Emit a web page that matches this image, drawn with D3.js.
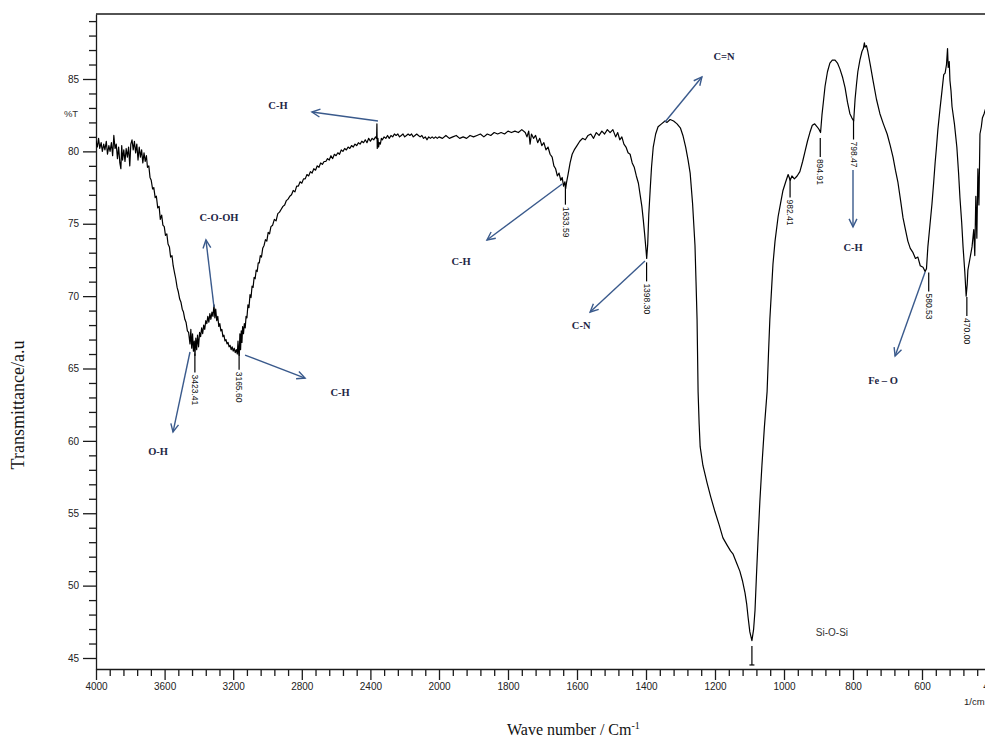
<!DOCTYPE html>
<html><head><meta charset="utf-8">
<script src="https://cdn.jsdelivr.net/npm/d3@7"></script>
<style>body{margin:0;background:#fff}svg{display:block}</style>
</head><body>
<svg id="c" width="985" height="738"></svg>
<script>
// ---------- DATA ----------
const wavenumber = [
4000,3992,3985,3978,3970,3963,3955,3948,3940,3933,3925,3918,3910,3903,3896,3889,3882,3875,3868,3861,3855,3850,3845,3838,3831,3824,3817,3810,3803,3797,3790,3783,3776,3769,3762,3755,3748,3741,3734,3727,3720,3713,3706,3700,
3692,3685,3678,3670,3663,3655,3648,3640,3632,3625,3617,3610,3602,3595,3587,3580,3572,3565,3557,3550,3542,3535,3527,3520,3512,3505,3497,3490,3482,3475,3467,3460,3452,3447,3442,3437,3432,3427,3423,3418,3413,3408,3402,3396,3390,3384,3378,3372,3366,3360,3354,3348,3342,3336,3330,3324,3318,3312,3307,3302,3296,3290,3284,3278,3272,3266,3260,3254,3248,3242,3236,3230,3224,3218,3212,3206,3200,3194,3188,3182,3176,3172,3168,3165,3161,3157,3153,3149,3145,3140,3135,3130,3125,3120,3114,3108,3102,3096,3090,3084,3078,3072,3066,3060,3054,3048,3042,3035,3028,3020,3012,3004,2996,2988,2980,2970,2960,2950,2940,2930,2920,2910,2900,2890,2880,2870,2860,2850,2840,2830,2820,2810,2800,2790,2780,2770,2760,2750,2740,2730,2720,2710,2700,2690,2680,2670,2660,2650,2640,2630,2620,2610,2600,2590,2580,2570,2560,2550,2540,2530,2520,2510,2500,2490,2480,2470,2460,2450,2440,2430,2420,2410,2400,2390,2380,2370,2364,2362,2360,2356,2352,2348,2342,2336,2330,2320,2310,2300,2290,2280,2270,2260,2250,2240,2230,2220,2210,2200,2190,2180,2170,2160,2150,2140,2130,2120,2110,2100,2090,2080,2070,2060,2050,2040,2030,2020,2010,2000,
1990,1980,1970,1960,1950,1940,1930,1920,1910,1900,1890,1880,1870,1860,1850,1840,1830,1820,1810,1800,1790,1780,1770,1760,1750,1745,1740,1736,1732,1726,1720,1714,1708,1702,1696,1690,1684,1678,1672,1667,1662,1657,1652,1647,1643,1639,1635,1633,1630,1626,1620,1614,1608,1600,1592,1584,1576,1568,1560,1552,1544,1536,1528,1520,1512,1504,1496,1488,1482,1476,1470,1464,1458,1452,1446,1440,1434,1428,1422,1417,1412,1408,1404,1400,1398,1395,1392,1388,1384,1379,1372,1365,1355,1345,1339,1330,1320,1310,1300,1293,1285,1278,1272,1265,1258,1255,1252,1249,1246,1243,1235,1223,1212,1200,1188,1177,1165,1155,1148,1138,1128,1120,1113,1108,1104,1099,1093,1088,1084,1080,1075,1070,1064,1057,1049,1045,1041,1036,1032,1026,1017,1010,1003,995,988,982,977,970,962,954,946,939,932,925,918,911,904,898,894,890,885,881,874,867,860,852,845,838,830,823,816,809,803,798,794,790,786,780,774,770,767,765,761,757,750,742,732,722,712,701,692,684,677,670,662,655,648,641,634,626,619,612,605,597,591,587,583,577,571,566,562,558,554,548,542,537,533,529,526,524,521,519,516,513,506,499,494,490,485,481,476,472,469,467,461,455,450,447,444,441,438,435,432,428,425,420,415,410];
const transmittance = [
80.7,80.3,80.9,80.2,80.6,80.0,80.5,80.1,80.7,79.8,80.4,80.0,80.6,79.7,81.1,80.2,80.5,79.5,80.3,79.2,78.8,80.4,79.4,80.1,79.3,80.2,79.6,80.3,79.0,80.5,80.8,80.1,80.7,79.9,80.5,79.4,80.3,79.6,80.1,79.2,79.9,79.3,79.7,78.9,
79.0,78.2,78.0,77.4,77.5,76.8,76.9,76.1,76.2,75.3,75.6,74.9,74.8,74.2,74.3,73.6,73.4,72.7,72.8,72.1,71.6,71.2,70.6,70.3,69.8,69.6,69.1,68.9,68.4,68.2,67.6,67.5,66.7,67.7,66.4,67.4,66.2,66.9,65.9,67.1,66.3,67.3,66.5,67.5,67.2,67.8,67.4,68.0,67.7,68.3,68.1,68.6,68.2,68.8,68.4,68.9,68.6,69.4,68.5,69.1,68.3,68.6,67.9,68.1,67.6,67.7,67.2,67.3,66.9,67.0,66.7,66.8,66.5,66.6,66.3,66.5,66.2,66.4,66.1,66.3,66.0,66.9,66.1,65.9,67.4,66.3,67.6,66.8,67.9,67.4,68.1,67.8,68.6,68.5,69.4,69.2,70.1,69.9,70.7,70.6,71.3,71.2,71.8,71.7,72.3,72.3,72.8,72.7,73.3,73.5,73.9,73.8,74.4,74.3,74.8,74.9,75.3,75.2,75.7,75.8,76.0,76.2,76.3,76.6,76.7,76.9,77.0,77.3,77.2,77.6,77.6,77.9,77.8,78.1,78.1,78.4,78.3,78.6,78.5,78.8,78.7,79.0,78.9,79.2,79.1,79.3,79.3,79.5,79.4,79.7,79.5,79.8,79.7,79.9,79.8,80.1,80.0,80.2,80.1,80.3,80.2,80.4,80.3,80.5,80.4,80.6,80.5,80.7,80.6,80.8,80.6,80.9,80.7,80.9,80.8,81.0,80.9,81.9,80.2,80.9,80.3,80.6,80.5,80.9,80.8,81.0,80.9,81.1,80.9,81.1,81.0,81.2,81.1,81.2,81.0,81.1,81.2,81.0,81.1,81.2,81.1,81.2,81.0,81.1,81.2,81.1,81.0,81.1,80.9,81.0,80.8,81.0,80.9,81.0,80.9,81.0,80.9,81.0,
80.9,81.1,80.9,81.0,81.1,80.9,81.0,80.9,81.1,81.0,81.1,81.2,81.0,81.2,81.1,81.3,81.2,81.3,81.2,81.4,81.3,81.4,81.3,81.5,81.3,81.0,81.4,80.5,81.2,80.9,81.1,80.6,80.9,80.4,80.6,80.1,80.3,79.8,79.6,79.0,78.8,78.3,78.5,78.0,78.2,77.6,77.9,77.4,77.9,78.4,79.2,79.8,80.1,80.4,80.7,80.9,80.8,81.1,81.2,80.9,81.3,81.1,81.4,81.2,81.5,81.3,81.5,81.0,81.3,80.8,81.0,80.5,80.3,79.9,79.8,79.2,78.9,78.3,77.8,77.0,76.2,75.3,74.3,73.2,72.6,73.6,75.6,77.3,78.9,80.3,81.2,81.7,81.9,82.1,82.0,82.2,82.1,81.9,81.6,81.1,80.3,79.4,78.5,76.4,73.5,71.0,68.4,63.4,61.2,59.6,58.3,57.1,56.1,55.1,54.2,53.3,52.8,52.4,52.2,51.6,51.0,50.3,49.5,48.7,47.8,46.8,46.2,47.0,48.3,50.6,53.3,55.8,58.3,60.9,63.4,66.0,68.4,70.5,72.2,73.8,75.5,76.4,77.3,77.9,78.4,78.0,78.3,78.1,78.3,78.6,79.3,80.0,80.7,81.3,81.8,81.9,81.7,81.5,81.3,82.5,83.6,84.5,85.5,86.1,86.3,86.3,86.1,85.7,85.1,84.4,83.4,82.6,82.3,82.1,83.6,84.6,85.5,86.3,86.9,87.1,87.5,87.2,87.3,86.9,86.0,84.9,83.6,82.6,81.9,81.2,80.4,79.6,78.7,77.9,76.6,75.4,74.6,73.8,73.3,73.0,72.6,72.7,72.1,72.0,71.7,71.9,73.4,74.9,76.4,77.9,79.2,80.3,81.5,82.9,84.2,85.3,85.4,86.0,87.1,85.8,86.2,84.9,84.2,83.1,81.9,80.3,78.5,76.8,75.1,73.4,71.7,70.0,70.8,71.8,72.6,73.4,74.6,72.8,76.9,74.0,78.8,76.3,81.2,81.7,82.3,82.6,83.0,83.2];

const xTickValues = [4000,3600,3200,2800,2400,2000,1800,1600,1400,1200,1000,800,600,400];
const xTickLabels = ["4000","3600","3200","2800","2400","2000","1800","1600","1400","1200","1000","800","600","400"];
const yTickValues = [45,50,55,60,65,70,75,80,85];
const yTickLabels = ["45","50","55","60","65","70","75","80","85"];

const peakWavenumbers = [3423.41,3165.60,1633.59,1398.30,1093,982.41,894.91,798.47,580.53,470.00];
const peakLabels = ["3423.41","3165.60","1633.59","1398.30","","982.41","894.91","798.47","580.53","470.00"];
const peakDepths = [66.1,66.3,77.7,72.4,45.9,78.2,81.0,82.2,71.7,70.0];

const bondLabels = ["C-H","C-O-OH","O-H","C-H","C-H","C-N","C=N","C-H","Fe \u2013 O"];
const arrowStart = [[2356,82.1],[3312,69.25],[3452,66.14],[3131,65.93],[1643,77.75],[1403,72.43],[1345,82.03],[800,78.71],[591,71.67]];
const arrowEnd   = [[2741,82.72],[3359,73.88],[3551,60.61],[2781,64.34],[1861,73.88],[1562,68.90],[1238,85.14],[800,74.78],[678,65.86]];
const labelPos   = [[2939,83.2],[3283,75.47],[3638,59.3],[2577,63.38],[1936,72.43],[1588,68.0],[1174,86.59],[800,73.39],[713,64.21]];
const siLabel = "Si-O-Si", siPos = [861,46.73];

// ---------- CHART ----------
const svg = d3.select("#c");
const x = d3.scaleLinear().domain([4000,2000,400]).range([96,439,991]);
const y = d3.scaleLinear().domain([44.24,89.49]).range([669,14]);
const axisColor = "#1a1a1a";
const sans = "Arial, 'Liberation Sans', sans-serif";
const serif = "'Times New Roman', 'Liberation Serif', serif";

// top frame line
svg.append("line").attr("x1",x(4000)).attr("x2",x(400)).attr("y1",y(89.49)).attr("y2",y(89.49))
  .attr("stroke",axisColor).attr("stroke-width",1.3);

// y axis minor
const yMinor = d3.range(45,90,1).filter(v=>!yTickValues.includes(v));
svg.append("g").attr("transform","translate(96,0)")
  .call(d3.axisLeft(y).tickValues(yMinor).tickSize(7).tickFormat(""))
  .call(g=>g.select(".domain").remove())
  .selectAll("line").attr("stroke",axisColor).attr("stroke-width",1.3);
const gy = svg.append("g").attr("transform","translate(96,0)")
  .call(d3.axisLeft(y).tickValues(yTickValues).tickSize(13).tickSizeOuter(0).tickPadding(4)
    .tickFormat((d,i)=>yTickLabels[i]));
gy.select(".domain").attr("stroke",axisColor).attr("stroke-width",1.3);
gy.selectAll("line").attr("stroke",axisColor).attr("stroke-width",1.3);
gy.selectAll("text").attr("font-family",sans).attr("font-size",10).attr("fill","#222");

// x axis minor
const xMinor = d3.range(4000,2000,-80).concat(d3.range(2000,399,-40)).filter(v=>!xTickValues.includes(v));
svg.append("g").attr("transform","translate(0,669)")
  .call(d3.axisBottom(x).tickValues(xMinor).tickSize(7).tickFormat(""))
  .call(g=>g.select(".domain").remove())
  .selectAll("line").attr("stroke",axisColor).attr("stroke-width",1.3);
const gx = svg.append("g").attr("transform","translate(0,669)")
  .call(d3.axisBottom(x).tickValues(xTickValues).tickSize(11).tickSizeOuter(0).tickPadding(3)
    .tickFormat((d,i)=>xTickLabels[i]));
gx.select(".domain").attr("stroke",axisColor).attr("stroke-width",1.3);
gx.selectAll("line").attr("stroke",axisColor).attr("stroke-width",1.3);
gx.selectAll("text").attr("font-family",sans).attr("font-size",10).attr("fill","#222");

// axis titles
svg.append("text").attr("x",71).attr("y",117).attr("text-anchor","middle")
  .attr("font-family",sans).attr("font-size",9.5).attr("fill","#333").text("%T");
svg.append("text").attr("x",964).attr("y",705).attr("font-family",sans).attr("font-size",9.5)
  .attr("fill","#222").text("1/cm");
const xt = svg.append("text").attr("x",507).attr("y",735).attr("font-family",serif)
  .attr("font-size",16).attr("fill","#111");
xt.append("tspan").text("Wave number / Cm");
xt.append("tspan").attr("font-size",10).attr("dy",-6).text("-1");
svg.append("text").attr("transform","translate(24,405) rotate(-90)").attr("text-anchor","middle")
  .attr("font-family",serif).attr("font-size",18).attr("fill","#111").text("Transmittance/a.u");

// spectrum
svg.append("defs").append("clipPath").attr("id","clip").append("rect")
  .attr("x",96).attr("y",14).attr("width",895).attr("height",655);
const pts = d3.zip(wavenumber, transmittance);
svg.append("path").datum(pts).attr("clip-path","url(#clip)")
  .attr("d", d3.line().x(d=>x(d[0])).y(d=>y(d[1])))
  .attr("fill","none").attr("stroke","#000").attr("stroke-width",1.2).attr("stroke-linejoin","round");

// peak ticks and labels
peakWavenumbers.forEach((w,i)=>{
  const px = x(w), py = y(peakDepths[i]) + 1;
  svg.append("line").attr("x1",px).attr("x2",px).attr("y1",py).attr("y2",py+19)
    .attr("stroke","#000").attr("stroke-width",1.2);
  if (peakLabels[i]) {
    svg.append("text").attr("transform",`translate(${px},${py+21}) rotate(90)`)
      .attr("dy","0.33em").attr("font-family",sans).attr("font-size",8.5).attr("fill","#111")
      .text(peakLabels[i]);
  } else {
    svg.append("line").attr("x1",px-2.5).attr("x2",px+2.5).attr("y1",py+19).attr("y2",py+19)
      .attr("stroke","#000").attr("stroke-width",1.2);
  }
});

// arrows & bond labels
const arrowColor = "#3a5a8c";
arrowStart.forEach((s,i)=>{
  const x1=x(s[0]), y1=y(s[1]), x2=x(arrowEnd[i][0]), y2=y(arrowEnd[i][1]);
  const a = Math.atan2(y2-y1, x2-x1), L = 9, sp = 0.45;
  const g = svg.append("g").attr("stroke",arrowColor).attr("stroke-width",1.4).attr("fill","none");
  g.append("line").attr("x1",x1).attr("y1",y1).attr("x2",x2).attr("y2",y2);
  g.append("path").attr("d",
    `M${x2-L*Math.cos(a-sp)},${y2-L*Math.sin(a-sp)}L${x2},${y2}L${x2-L*Math.cos(a+sp)},${y2-L*Math.sin(a+sp)}`);
  svg.append("text").attr("x",x(labelPos[i][0])).attr("y",y(labelPos[i][1])).attr("dy","0.35em")
    .attr("text-anchor","middle").attr("font-family",serif).attr("font-weight","bold")
    .attr("font-size",10.5).attr("fill","#1e2645").text(bondLabels[i]);
});
svg.append("text").attr("x",x(siPos[0])).attr("y",y(siPos[1])).attr("dy","0.35em")
  .attr("text-anchor","middle").attr("font-family",sans).attr("font-size",10).attr("fill","#333").text(siLabel);
</script>
</body></html>
